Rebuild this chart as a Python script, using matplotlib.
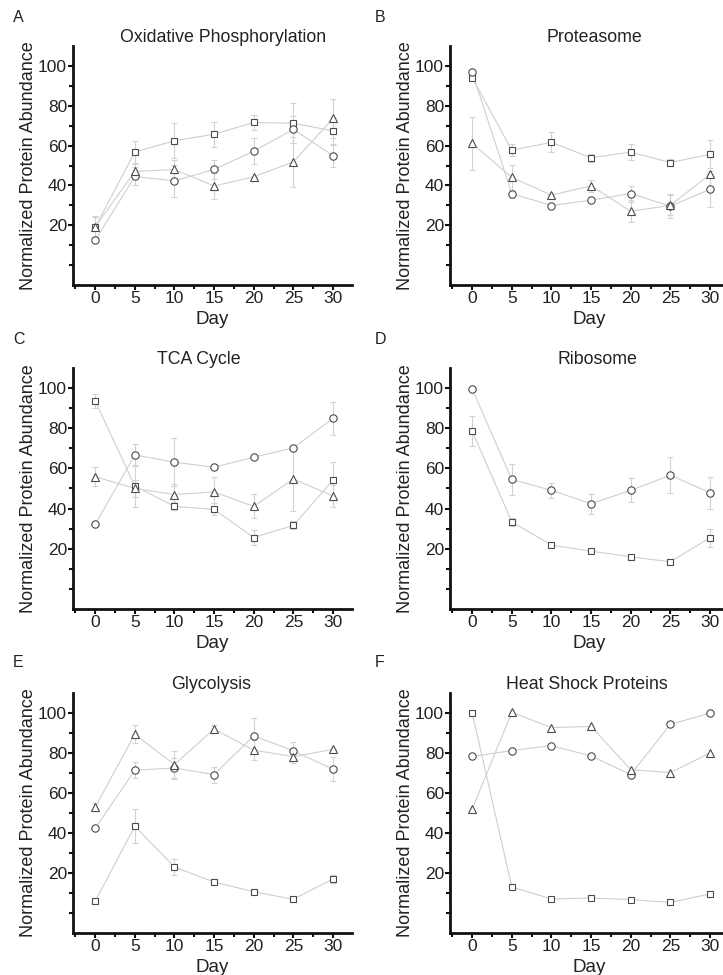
import numpy as np
import matplotlib.pyplot as plt
from matplotlib.ticker import FixedLocator

plt.rcParams['font.family'] = ['Liberation Sans', 'DejaVu Sans']

days = [0, 5, 10, 15, 20, 25, 30]

# A - Oxidative Phosphorylation
oxphos_sq = [19, 56.8, 62.4, 65.7, 71.6, 71.2, 67.4]
oxphos_sq_err = [5, 5.5, 8.7, 6.3, 3.7, 10, 7]
oxphos_ci = [12.5, 44.5, 42.3, 48, 57.2, 68.1, 55]
oxphos_ci_err = [0, 4.5, 8, 4.6, 6.4, 7, 6]
oxphos_tr = [19.2, 47, 48, 39.7, 44.3, 51.8, 73.6]
oxphos_tr_err = [5.3, 4, 5, 6.3, 0, 12.5, 9.6]

# B - Proteasome
prot_sq = [94.1, 57.7, 61.6, 53.9, 56.7, 51.5, 55.6]
prot_sq_err = [0, 3, 5, 2, 4, 2, 7]
prot_ci = [96.8, 35.9, 29.9, 32.6, 35.9, 29.6, 38]
prot_ci_err = [0, 2, 0, 0, 4, 6, 9]
prot_tr = [61.1, 44, 35.1, 39.8, 27, 30, 45.5]
prot_tr_err = [13.5, 6.5, 0, 3, 5.5, 5, 0]

# C - TCA Cycle
tca_sq = [93.6, 51.2, 41.1, 39.6, 25.6, 31.6, 54.2]
tca_sq_err = [3.4, 10.5, 2, 3, 3.7, 2, 9.2]
tca_ci = [32.1, 66.7, 63.1, 60.6, 65.6, 70.2, 84.9]
tca_ci_err = [0, 5.5, 12, 0, 0, 0, 8.2]
tca_tr = [55.9, 50, 47, 48.3, 41.1, 54.7, 46.3]
tca_tr_err = [4.7, 4, 5, 7.6, 6, 16, 5.5]

# D - Ribosome
ribo_sq = [78.6, 33.4, 21.8, 18.8, 16, 13.5, 25.5]
ribo_sq_err = [7.5, 2, 1, 1, 1, 1, 4.5]
ribo_ci = [99.5, 54.5, 49.1, 42.4, 49.1, 56.6, 47.9]
ribo_ci_err = [0, 7.7, 3.7, 5, 6, 9, 8]

# E - Glycolysis
glyc_sq = [5.9, 43.4, 23, 15.5, 10.6, 6.9, 17]
glyc_sq_err = [0, 8.5, 4, 0, 0, 0, 2]
glyc_ci = [42.3, 71.4, 72.5, 69.2, 88.6, 81.1, 71.9]
glyc_ci_err = [0, 4, 5, 4, 9, 4.5, 6]
glyc_tr = [53, 89.3, 74.2, 92, 81.4, 78.2, 81.8]
glyc_tr_err = [2, 4.5, 7, 2, 5, 3, 0]

# F - Heat Shock Proteins
hsp_sq = [100, 13, 7, 7.5, 6.7, 5.3, 9.5]
hsp_ci = [78.3, 81.2, 83.7, 78.5, 69.2, 94.3, 100]
hsp_tr = [52, 100.3, 92.7, 93.3, 71.7, 70.2, 80]

W, H = 723, 975
fig = plt.figure(figsize=(W / 100, H / 100), dpi=100)


def add_panel(left, top, right, bottom):
    return fig.add_axes([left / W, 1 - bottom / H, (right - left) / W, (bottom - top) / H])


def series(ax, y, err, marker, ms):
    ax.plot(days, y, color='#cfcfcf', lw=0.8, zorder=1)
    if err is not None:
        ax.errorbar(days, y, yerr=err, fmt='none', ecolor='#d2d2d2', elinewidth=0.8,
                    capsize=2.5, capthick=0.8, zorder=1)
    ax.plot(days, y, ls='none', marker=marker, ms=ms, mfc='white', mec='#4a4a4a',
            mew=0.8, zorder=3)


def style(ax, title, title_x, letter, letter_xy):
    ax.set_xlim(-2.8, 32.4)
    ax.set_ylim(-10, 110)
    for s in ['top', 'right']:
        ax.spines[s].set_visible(False)
    for s in ['left', 'bottom']:
        ax.spines[s].set_linewidth(2.0)
        ax.spines[s].set_color('#111111')
    ax.xaxis.set_major_locator(FixedLocator(days))
    ax.xaxis.set_minor_locator(FixedLocator([-2.5, 2.5, 7.5, 12.5, 17.5, 22.5, 27.5, 32.5]))
    ax.yaxis.set_major_locator(FixedLocator([20, 40, 60, 80, 100]))
    ax.yaxis.set_minor_locator(FixedLocator([0, 10, 30, 50, 70, 90]))
    ax.tick_params(which='both', direction='out', width=1.5, color='#111111',
                   labelsize=12.5, pad=0.5, labelcolor='#222222')
    ax.tick_params(which='major', length=3.8)
    ax.tick_params(which='minor', length=3.2)
    ax.set_xlabel('Day', fontsize=13.5, labelpad=3.5, color='#222222')
    ax.set_ylabel('Normalized Protein Abundance', fontsize=13, labelpad=0.5, color='#222222')
    ax.set_title(title, fontsize=12.8, pad=0.5, x=title_x, color='#222222')
    fig.text(letter_xy[0] / W, 1 - letter_xy[1] / H, letter, fontsize=11.5,
             color='#222222', ha='left', va='bottom')


rows = [(46, 285), (368, 609), (693, 933)]
lefts = [(73, 352), (450, 729)]

# A
ax = add_panel(lefts[0][0], rows[0][0], lefts[0][1], rows[0][1])
series(ax, oxphos_sq, oxphos_sq_err, 's', 4.8)
series(ax, oxphos_ci, oxphos_ci_err, 'o', 5.3)
series(ax, oxphos_tr, oxphos_tr_err, '^', 5.8)
style(ax, 'Oxidative Phosphorylation', 0.538, 'A', (13, 25))

# B
ax = add_panel(lefts[1][0], rows[0][0], lefts[1][1], rows[0][1])
series(ax, prot_sq, prot_sq_err, 's', 4.8)
series(ax, prot_ci, prot_ci_err, 'o', 5.3)
series(ax, prot_tr, prot_tr_err, '^', 5.8)
style(ax, 'Proteasome', 0.516, 'B', (375, 25))

# C
ax = add_panel(lefts[0][0], rows[1][0], lefts[0][1], rows[1][1])
series(ax, tca_sq, tca_sq_err, 's', 4.8)
series(ax, tca_ci, tca_ci_err, 'o', 5.3)
series(ax, tca_tr, tca_tr_err, '^', 5.8)
style(ax, 'TCA Cycle', 0.452, 'C', (13, 347))

# D
ax = add_panel(lefts[1][0], rows[1][0], lefts[1][1], rows[1][1])
series(ax, ribo_sq, ribo_sq_err, 's', 4.8)
series(ax, ribo_ci, ribo_ci_err, 'o', 5.3)
style(ax, 'Ribosome', 0.527, 'D', (375, 347))

# E
ax = add_panel(lefts[0][0], rows[2][0], lefts[0][1], rows[2][1])
series(ax, glyc_sq, glyc_sq_err, 's', 4.8)
series(ax, glyc_ci, glyc_ci_err, 'o', 5.3)
series(ax, glyc_tr, glyc_tr_err, '^', 5.8)
style(ax, 'Glycolysis', 0.495, 'E', (13, 670))

# F
ax = add_panel(lefts[1][0], rows[2][0], lefts[1][1], rows[2][1])
series(ax, hsp_sq, None, 's', 4.8)
series(ax, hsp_ci, None, 'o', 5.3)
series(ax, hsp_tr, None, '^', 5.8)
style(ax, 'Heat Shock Proteins', 0.491, 'F', (375, 670))

fig.savefig('out.png', dpi=100)
